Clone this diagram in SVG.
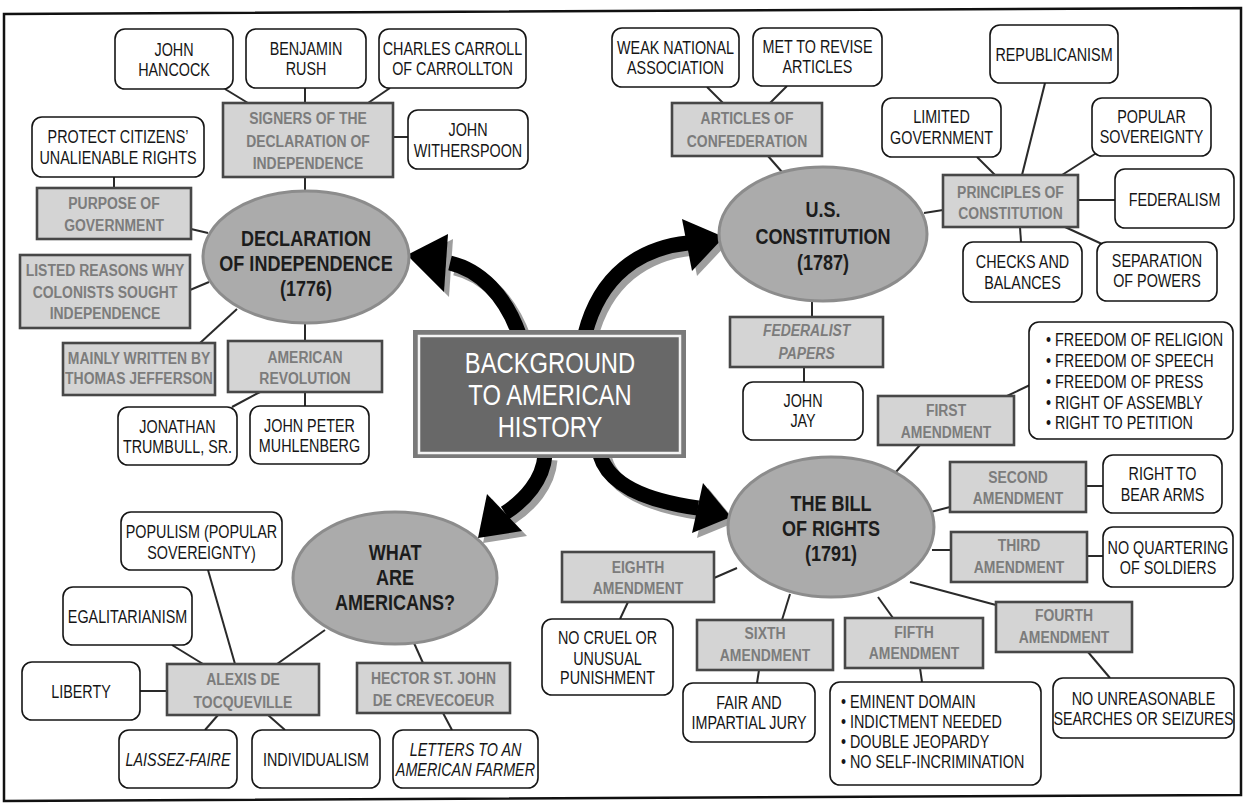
<svg xmlns="http://www.w3.org/2000/svg" width="1246" height="803" viewBox="0 0 1246 803">
<style>
text{font-family:'Liberation Sans',Arial,sans-serif;text-anchor:middle;transform-box:fill-box;transform-origin:center;transform:scaleX(0.82)}
text.lft{text-anchor:start;transform-origin:left center}
.wb rect{fill:#fff;stroke:#151515;stroke-width:1.6}
.wb text{font-size:17.5px;fill:#151515}
.gb rect{fill:#d4d4d4;stroke:#474747;stroke-width:2.6}
.gb text{font-size:17px;font-weight:bold;fill:#7c7c7c}
.el ellipse{fill:#ababab;stroke:#8c8c8c;stroke-width:3}
.el text{font-size:22px;font-weight:bold;fill:#1c1c1c}
.it{font-style:italic}
#connectors line{stroke:#2a2a2a;stroke-width:2}
.shaft{fill:none;stroke-width:15}
</style>
<polygon points="4,14 1241,8 1241,795 4,801" fill="none" stroke="#111" stroke-width="2.5"/>
<g id="connectors">
<line x1="225" y1="89" x2="248" y2="103"/>
<line x1="305" y1="88" x2="305" y2="103"/>
<line x1="390" y1="88" x2="368" y2="103"/>
<line x1="393" y1="137" x2="408" y2="137"/>
<line x1="305" y1="177" x2="305" y2="192"/>
<line x1="114" y1="177" x2="114" y2="188"/>
<line x1="191" y1="229" x2="208" y2="233"/>
<line x1="190" y1="290" x2="209" y2="282"/>
<line x1="237" y1="309" x2="200" y2="343"/>
<line x1="305" y1="322" x2="305" y2="341"/>
<line x1="260" y1="392" x2="232" y2="407"/>
<line x1="305" y1="392" x2="305" y2="406"/>
<line x1="707" y1="87" x2="723" y2="103"/>
<line x1="787" y1="86" x2="770" y2="103"/>
<line x1="768" y1="156" x2="782" y2="172"/>
<line x1="924" y1="213" x2="943" y2="210"/>
<line x1="977" y1="157" x2="995" y2="175"/>
<line x1="1045" y1="83" x2="1022" y2="175"/>
<line x1="1098" y1="152" x2="1062" y2="175"/>
<line x1="1078" y1="200" x2="1115" y2="200"/>
<line x1="1020" y1="227" x2="1021" y2="242"/>
<line x1="1065" y1="227" x2="1102" y2="244"/>
<line x1="812" y1="299" x2="812" y2="317"/>
<line x1="804" y1="367" x2="804" y2="382"/>
<line x1="887" y1="482" x2="920" y2="445"/>
<line x1="1007" y1="396" x2="1030" y2="385"/>
<line x1="927" y1="513" x2="950" y2="507"/>
<line x1="1086" y1="486" x2="1103" y2="486"/>
<line x1="932" y1="550" x2="951" y2="550"/>
<line x1="1087" y1="556" x2="1103" y2="556"/>
<line x1="910" y1="582" x2="996" y2="605"/>
<line x1="1088" y1="652" x2="1110" y2="678"/>
<line x1="878" y1="597" x2="893" y2="618"/>
<line x1="920" y1="668" x2="922" y2="682"/>
<line x1="790" y1="594" x2="782" y2="620"/>
<line x1="759" y1="670" x2="757" y2="683"/>
<line x1="737" y1="568" x2="714" y2="578"/>
<line x1="628" y1="602" x2="620" y2="619"/>
<line x1="325" y1="630" x2="277" y2="664"/>
<line x1="414" y1="643" x2="423" y2="663"/>
<line x1="208" y1="570" x2="235" y2="664"/>
<line x1="172" y1="645" x2="203" y2="664"/>
<line x1="140" y1="691" x2="167" y2="691"/>
<line x1="218" y1="715" x2="205" y2="730"/>
<line x1="268" y1="715" x2="285" y2="730"/>
<line x1="443" y1="713" x2="452" y2="730"/>
<g id="arrow-shadows" transform="translate(5,5)" fill="#9e9e9e" stroke="#9e9e9e">
<path class="shaft" d="M519,334 C505,295 480,270 450,263"/>
<polygon points="407,255 448,234 444,292" stroke="none"/>
<path class="shaft" d="M585,334 C600,275 640,248 688,243"/>
<polygon points="724,237 682,219 692,271" stroke="none"/>
<path class="shaft" d="M545,455 C543,480 525,500 505,513"/>
<polygon points="478,538 487,494 522,531" stroke="none"/>
<path class="shaft" d="M600,455 C608,482 640,500 698,508"/>
<polygon points="731,517 703,483 692,533" stroke="none"/>
</g>
<g id="arrows" fill="#000" stroke="#000">
<path class="shaft" d="M519,334 C505,295 480,270 450,263"/>
<polygon points="407,255 448,234 444,292" stroke="none"/>
<path class="shaft" d="M585,334 C600,275 640,248 688,243"/>
<polygon points="724,237 682,219 692,271" stroke="none"/>
<path class="shaft" d="M545,455 C543,480 525,500 505,513"/>
<polygon points="478,538 487,494 522,531" stroke="none"/>
<path class="shaft" d="M600,455 C608,482 640,500 698,508"/>
<polygon points="731,517 703,483 692,533" stroke="none"/>
</g>
</g>
<g id="center">
<rect x="413" y="330" width="273" height="128" fill="#7a7a7a"/>
<rect x="419" y="336" width="261" height="117" fill="#686868" stroke="#f4f4f4" stroke-width="2.5"/>
<text x="550" y="373" font-size="29" fill="#fff">BACKGROUND</text>
<text x="550" y="405" font-size="29" fill="#fff">TO AMERICAN</text>
<text x="550" y="437" font-size="29" fill="#fff">HISTORY</text>
</g>
<g id="decl" class="el"><ellipse cx="306" cy="257" rx="103" ry="66"/><text x="306" y="246">DECLARATION</text><text x="306" y="271">OF INDEPENDENCE</text><text x="306" y="296">(1776)</text></g>
<g id="const" class="el"><ellipse cx="823" cy="234" rx="104" ry="67"/><text x="823" y="217">U.S.</text><text x="823" y="244">CONSTITUTION</text><text x="823" y="270">(1787)</text></g>
<g id="what" class="el"><ellipse cx="395" cy="578" rx="102" ry="66"/><text x="395" y="560">WHAT</text><text x="395" y="585">ARE</text><text x="395" y="610">AMERICANS?</text></g>
<g id="bill" class="el"><ellipse cx="831" cy="527" rx="103" ry="70"/><text x="831" y="511">THE BILL</text><text x="831" y="536">OF RIGHTS</text><text x="831" y="561">(1791)</text></g>
<g id="signers" class="gb"><rect x="223" y="103" width="170" height="74"/><text x="308" y="124">SIGNERS OF THE</text><text x="308" y="147">DECLARATION OF</text><text x="308" y="169">INDEPENDENCE</text></g>
<g id="purpose" class="gb"><rect x="37" y="188" width="154" height="51"/><text x="114" y="209">PURPOSE OF</text><text x="114" y="231">GOVERNMENT</text></g>
<g id="listed" class="gb"><rect x="20" y="255" width="170" height="73"/><text x="105" y="276">LISTED REASONS WHY</text><text x="105" y="298">COLONISTS SOUGHT</text><text x="105" y="319">INDEPENDENCE</text></g>
<g id="mainly" class="gb"><rect x="63" y="343" width="152" height="52"/><text x="139" y="364">MAINLY WRITTEN BY</text><text x="139" y="384">THOMAS JEFFERSON</text></g>
<g id="amrev" class="gb"><rect x="228" y="341" width="154" height="51"/><text x="305" y="363">AMERICAN</text><text x="305" y="384">REVOLUTION</text></g>
<g id="alexis" class="gb"><rect x="167" y="664" width="152" height="51"/><text x="243" y="685">ALEXIS DE</text><text x="243" y="708">TOCQUEVILLE</text></g>
<g id="hector" class="gb"><rect x="357" y="663" width="153" height="50"/><text x="433.5" y="684">HECTOR ST. JOHN</text><text x="433.5" y="706">DE CREVECOEUR</text></g>
<g id="articles" class="gb"><rect x="672" y="103" width="150" height="53"/><text x="747" y="124">ARTICLES OF</text><text x="747" y="147">CONFEDERATION</text></g>
<g id="principles" class="gb"><rect x="943" y="175" width="135" height="52"/><text x="1010.5" y="198">PRINCIPLES OF</text><text x="1010.5" y="219">CONSTITUTION</text></g>
<g id="federalist" class="gb"><rect x="730" y="317" width="153" height="50"/><text class="it" x="806.5" y="336">FEDERALIST</text><text class="it" x="806.5" y="359">PAPERS</text></g>
<g id="first" class="gb"><rect x="878" y="396" width="136" height="49"/><text x="946" y="416">FIRST</text><text x="946" y="438">AMENDMENT</text></g>
<g id="second" class="gb"><rect x="950" y="462" width="136" height="50"/><text x="1018" y="483">SECOND</text><text x="1018" y="504">AMENDMENT</text></g>
<g id="third" class="gb"><rect x="951" y="532" width="136" height="50"/><text x="1019" y="551">THIRD</text><text x="1019" y="573">AMENDMENT</text></g>
<g id="fourth" class="gb"><rect x="996" y="602" width="136" height="50"/><text x="1064" y="621">FOURTH</text><text x="1064" y="643">AMENDMENT</text></g>
<g id="fifth" class="gb"><rect x="845" y="618" width="138" height="50"/><text x="914" y="638">FIFTH</text><text x="914" y="659">AMENDMENT</text></g>
<g id="sixth" class="gb"><rect x="697" y="620" width="136" height="50"/><text x="765" y="639">SIXTH</text><text x="765" y="661">AMENDMENT</text></g>
<g id="eighth" class="gb"><rect x="562" y="552" width="152" height="50"/><text x="638" y="573">EIGHTH</text><text x="638" y="594">AMENDMENT</text></g>
<g id="hancock" class="wb"><rect x="115" y="29" width="118" height="60" rx="10"/><text x="174" y="56">JOHN</text><text x="174" y="76">HANCOCK</text></g>
<g id="rush" class="wb"><rect x="246" y="29" width="120" height="59" rx="10"/><text x="306" y="55">BENJAMIN</text><text x="306" y="75">RUSH</text></g>
<g id="carroll" class="wb"><rect x="379" y="29" width="147" height="59" rx="10"/><text x="452.5" y="55">CHARLES CARROLL</text><text x="452.5" y="75">OF CARROLLTON</text></g>
<g id="witherspoon" class="wb"><rect x="408" y="110" width="120" height="59" rx="10"/><text x="468" y="136">JOHN</text><text x="468" y="157">WITHERSPOON</text></g>
<g id="protect" class="wb"><rect x="32" y="117" width="172" height="60" rx="10"/><text x="118" y="143">PROTECT CITIZENS’</text><text x="118" y="164">UNALIENABLE RIGHTS</text></g>
<g id="trumbull" class="wb"><rect x="118" y="407" width="119" height="58" rx="10"/><text x="177.5" y="433">JONATHAN</text><text x="177.5" y="453">TRUMBULL, SR.</text></g>
<g id="muhlenberg" class="wb"><rect x="250" y="406" width="119" height="58" rx="10"/><text x="309.5" y="432">JOHN PETER</text><text x="309.5" y="452">MUHLENBERG</text></g>
<g id="populism" class="wb"><rect x="121" y="512" width="161" height="58" rx="10"/><text x="201.5" y="538">POPULISM (POPULAR</text><text x="201.5" y="559">SOVEREIGNTY)</text></g>
<g id="egal" class="wb"><rect x="63" y="587" width="129" height="58" rx="10"/><text x="127.5" y="623">EGALITARIANISM</text></g>
<g id="liberty" class="wb"><rect x="22" y="662" width="118" height="58" rx="10"/><text x="81" y="698">LIBERTY</text></g>
<g id="laissez" class="wb"><rect x="119" y="730" width="118" height="58" rx="10"/><text class="it" x="178" y="766">LAISSEZ-FAIRE</text></g>
<g id="individualism" class="wb"><rect x="252" y="730" width="128" height="58" rx="10"/><text x="316" y="766">INDIVIDUALISM</text></g>
<g id="letters" class="wb"><rect x="393" y="730" width="145" height="58" rx="10"/><text class="it" x="465.5" y="756">LETTERS TO AN</text><text class="it" x="465.5" y="776">AMERICAN FARMER</text></g>
<g id="weak" class="wb"><rect x="612" y="28" width="127" height="59" rx="10"/><text x="675.5" y="54">WEAK NATIONAL</text><text x="675.5" y="74">ASSOCIATION</text></g>
<g id="met" class="wb"><rect x="753" y="28" width="129" height="58" rx="10"/><text x="817.5" y="53">MET TO REVISE</text><text x="817.5" y="73">ARTICLES</text></g>
<g id="republicanism" class="wb"><rect x="990" y="25" width="128" height="58" rx="10"/><text x="1054" y="61">REPUBLICANISM</text></g>
<g id="limited" class="wb"><rect x="882" y="98" width="119" height="59" rx="10"/><text x="941.5" y="123">LIMITED</text><text x="941.5" y="144">GOVERNMENT</text></g>
<g id="popular" class="wb"><rect x="1092" y="98" width="119" height="58" rx="10"/><text x="1151.5" y="123">POPULAR</text><text x="1151.5" y="143">SOVEREIGNTY</text></g>
<g id="federalism" class="wb"><rect x="1115" y="169" width="119" height="59" rx="10"/><text x="1174.5" y="206">FEDERALISM</text></g>
<g id="checks" class="wb"><rect x="963" y="242" width="119" height="60" rx="10"/><text x="1022.5" y="268">CHECKS AND</text><text x="1022.5" y="289">BALANCES</text></g>
<g id="separation" class="wb"><rect x="1097" y="242" width="120" height="59" rx="10"/><text x="1157" y="267">SEPARATION</text><text x="1157" y="287">OF POWERS</text></g>
<g id="jay" class="wb"><rect x="743" y="382" width="120" height="58" rx="10"/><text x="803" y="407">JOHN</text><text x="803" y="427">JAY</text></g>
<g id="freedoms" class="wb"><rect x="1029" y="322" width="204" height="117" rx="10"/><text class="lft" x="1046" y="346">• FREEDOM OF RELIGION</text><text class="lft" x="1046" y="367">• FREEDOM OF SPEECH</text><text class="lft" x="1046" y="388">• FREEDOM OF PRESS</text><text class="lft" x="1046" y="409">• RIGHT OF ASSEMBLY</text><text class="lft" x="1046" y="429">• RIGHT TO PETITION</text></g>
<g id="bear" class="wb"><rect x="1103" y="455" width="119" height="58" rx="10"/><text x="1162.5" y="480">RIGHT TO</text><text x="1162.5" y="501">BEAR ARMS</text></g>
<g id="quartering" class="wb"><rect x="1103" y="527" width="130" height="60" rx="10"/><text x="1168" y="554">NO QUARTERING</text><text x="1168" y="574">OF SOLDIERS</text></g>
<g id="unreasonable" class="wb"><rect x="1053" y="678" width="181" height="60" rx="10"/><text x="1143.5" y="705">NO UNREASONABLE</text><text x="1143.5" y="725">SEARCHES OR SEIZURES</text></g>
<g id="fifthrights" class="wb"><rect x="830" y="682" width="211" height="103" rx="10"/><text class="lft" x="841" y="708">• EMINENT DOMAIN</text><text class="lft" x="841" y="728">• INDICTMENT NEEDED</text><text class="lft" x="841" y="748">• DOUBLE JEOPARDY</text><text class="lft" x="841" y="768">• NO SELF-INCRIMINATION</text></g>
<g id="fair" class="wb"><rect x="683" y="683" width="132" height="59" rx="10"/><text x="749" y="709">FAIR AND</text><text x="749" y="729">IMPARTIAL JURY</text></g>
<g id="cruel" class="wb"><rect x="542" y="619" width="131" height="76" rx="10"/><text x="607.5" y="644">NO CRUEL OR</text><text x="607.5" y="665">UNUSUAL</text><text x="607.5" y="684">PUNISHMENT</text></g>
</svg>
